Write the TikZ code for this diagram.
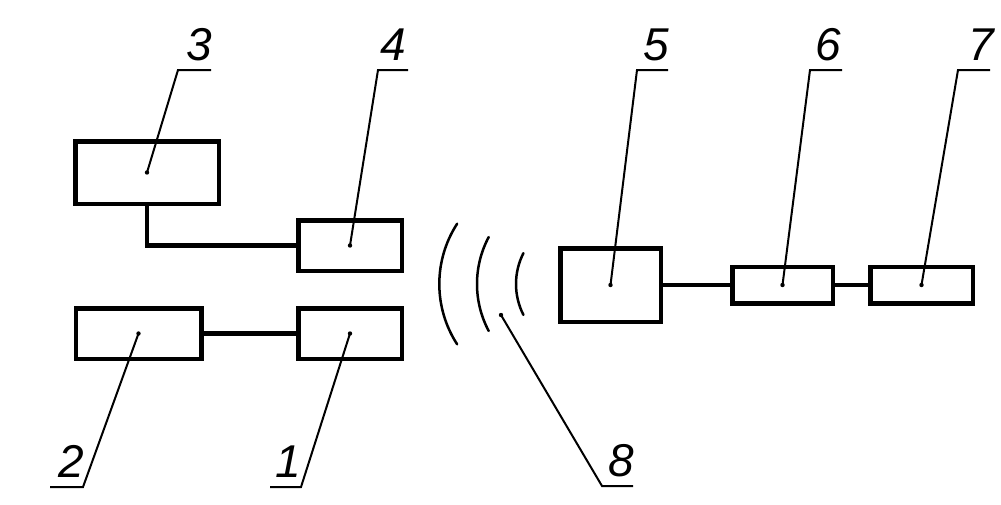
\documentclass[tikz,border=0pt]{standalone}
\usepackage{fontspec}
\setmainfont{Liberation Sans}
\usepackage{tikz}
\tikzset{
    blok/.style={draw, line width=4.5pt, inner sep=0pt},
    svyaz/.style={line width=4.5pt},
    vynoska/.style={line width=2pt},
    nomer/.style={font=\fontsize{46}{46}\selectfont\itshape, inner sep=0pt, anchor=base},
    volna/.style={line width=2.5pt, line cap=round}
}

\begin{document}
\begin{tikzpicture}[x=1pt, y=-1pt]
    \useasboundingbox (0,0) rectangle (1001,504);
    % bloki
    \node[blok, minimum width=143.5pt, minimum height=62.5pt] (b3) at (147,172.5) {};
    \node[blok, minimum width=103.5pt, minimum height=50.5pt] (b4) at (350,245.5) {};
    \node[blok, minimum width=125.5pt, minimum height=50.5pt] (b2) at (138.5,333.5) {};
    \node[blok, minimum width=103.5pt, minimum height=50.5pt] (b1) at (350,333.5) {};
    \node[blok, minimum width=100.5pt, minimum height=73.5pt] (b5) at (610.5,285) {};
    \node[blok, minimum width=100.5pt, minimum height=36.5pt] (b6) at (782.5,285) {};
    \node[blok, minimum width=102.5pt, minimum height=36.5pt] (b7) at (921.5,285) {};
    \coordinate (v) at (501,315);

    \draw[svyaz] (b3.south) |- (b4.west);
    \draw[svyaz] (b2) -- (b1);
    \draw[svyaz] (b5) -- (b6);
    \draw[svyaz] (b6) -- (b7);

    % volny
    \draw[volna] (550,284) ++(147:110.7) arc[start angle=147, end angle=213, radius=110.7];
    \draw[volna] (577,284) ++(152:100) arc[start angle=152, end angle=208, radius=100];
    \draw[volna] (584,284) ++(153:68) arc[start angle=153, end angle=207, radius=68];

    % vynoski
    \foreach \b/\xa/\xb/\yy/\xn/\num in {b3/178/211/70/199/3, b4/378/408/70/393/4,
        b5/637/668/70/656/5, b6/810/842/70/828/6, b7/958/990/70/981/7,
        b2/83/50/487/71/2, b1/301/270/487/288/1, v/602/633/486/621/8}{
        \fill (\b.center) circle (2.2);
        \draw[vynoska] (\b.center) -- (\xa,\yy) -- (\xb,\yy);
        \node[nomer] (l\num) at (\xn,\yy-10) {\num};
    }
\end{tikzpicture}
\end{document}
